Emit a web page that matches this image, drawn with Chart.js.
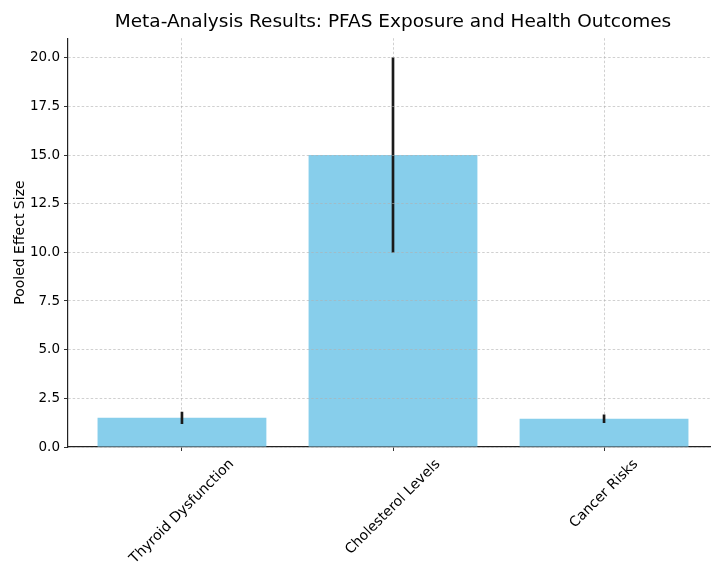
<!DOCTYPE html>
<html>
<head>
<meta charset="utf-8">
<script src="https://cdn.jsdelivr.net/npm/chart.js@4.4.1/dist/chart.umd.min.js"></script>
<style>
  html, body { margin: 0; padding: 0; background: #fff; overflow: hidden; }
  #wrap { width: 711px; height: 562px; overflow: hidden; position: relative; }
  canvas { display: block; }
</style>
</head>
<body>
<div id="wrap"><canvas id="chart" width="760" height="562"></canvas></div>
<script>
// Pooled effect sizes per health outcome, with their error half-widths
const outcomes = ['Thyroid Dysfunction', 'Cholesterol Levels', 'Cancer Risks'];
const effectSizes = [1.5, 15, 1.45];
const errors = [0.3, 5, 0.2];
const yTicks = [0, 2.5, 5, 7.5, 10, 12.5, 15, 17.5, 20];

const FONT = 'DejaVu Sans';
const LABEL_SIZE = 14;

const barPoints = outcomes.map((_, i) => ({ x: i, y: effectSizes[i] }));
const errPoints = outcomes.map((_, i) => ({ x: i, y: [effectSizes[i] - errors[i], effectSizes[i] + errors[i]] }));

// Rotated category labels, centred under each tick
const rotatedLabels = {
  id: 'rotatedLabels',
  afterDraw(chart) {
    const { ctx } = chart;
    const xs = chart.scales.x;
    ctx.save();
    ctx.font = LABEL_SIZE + 'px "' + FONT + '"';
    ctx.fillStyle = '#000';
    ctx.textBaseline = 'middle';
    ctx.textAlign = 'center';
    outcomes.forEach((label, i) => {
      const px = xs.getPixelForValue(i);
      const w = ctx.measureText(label).width;
      const boxH = (w + LABEL_SIZE) * Math.SQRT1_2;
      const top = xs.top + 4 + 6;
      ctx.save();
      ctx.translate(px, top + boxH / 2);
      ctx.rotate(-Math.PI / 4);
      ctx.fillText(label, 0, 0);
      ctx.restore();
    });
    ctx.restore();
  }
};

const gridStyle = (z) => ({
  color: 'rgba(176,176,176,0.75)',
  lineWidth: 0.8,
  offset: false,
  tickColor: '#333',
  tickLength: 4,
  tickWidth: 1,
  tickBorderDash: [],
  z: z
});

new Chart(document.getElementById('chart'), {
  type: 'bar',
  data: {
    datasets: [
      {
        label: 'Error',
        data: errPoints,
        backgroundColor: '#1a1a1a',
        borderWidth: 0,
        barThickness: 2,
        grouped: false,
        order: 0
      },
      {
        label: 'Pooled Effect Size',
        data: barPoints,
        backgroundColor: '#87CEEB',
        borderWidth: 0,
        barPercentage: 1,
        categoryPercentage: 0.8,
        grouped: false,
        order: 1
      }
    ]
  },
  options: {
    responsive: false,
    animation: false,
    devicePixelRatio: 1,
    layout: { padding: { left: 0, right: 42, top: 0, bottom: 0 } },
    plugins: {
      legend: { display: false },
      tooltip: { enabled: false },
      title: {
        display: true,
        text: 'Meta-Analysis Results: PFAS Exposure and Health Outcomes',
        color: '#000',
        fullSize: false,
        font: { family: FONT, size: 18.5, weight: 'normal', lineHeight: 1.2 },
        padding: { top: 11, bottom: 5 }
      }
    },
    scales: {
      x: {
        type: 'linear',
        offset: false,
        min: -0.54,
        max: 2.54,
        afterBuildTicks(scale) { scale.ticks = outcomes.map((_, i) => ({ value: i })); },
        afterFit(scale) { scale.height = 115; },
        ticks: { display: false },
        grid: gridStyle(0),
        border: { display: true, color: '#222', width: 1.2, dash: [2.5, 2], z: 0 }
      },
      y: {
        min: 0,
        max: 21,
        afterBuildTicks(scale) { scale.ticks = yTicks.map(v => ({ value: v })); },
        afterFit(scale) { scale.width = 68; },
        ticks: {
          color: '#000',
          font: { family: FONT, size: 13.5 },
          padding: 4,
          callback: v => v.toFixed(1)
        },
        title: {
          display: true,
          text: 'Pooled Effect Size',
          color: '#000',
          font: { family: FONT, size: 14 },
          padding: { top: 12, bottom: 0 }
        },
        grid: gridStyle(1),
        border: { display: true, color: '#222', width: 1.2, dash: [2.5, 2], z: 1 }
      }
    }
  },
  plugins: [rotatedLabels]
});
</script>
</body>
</html>
